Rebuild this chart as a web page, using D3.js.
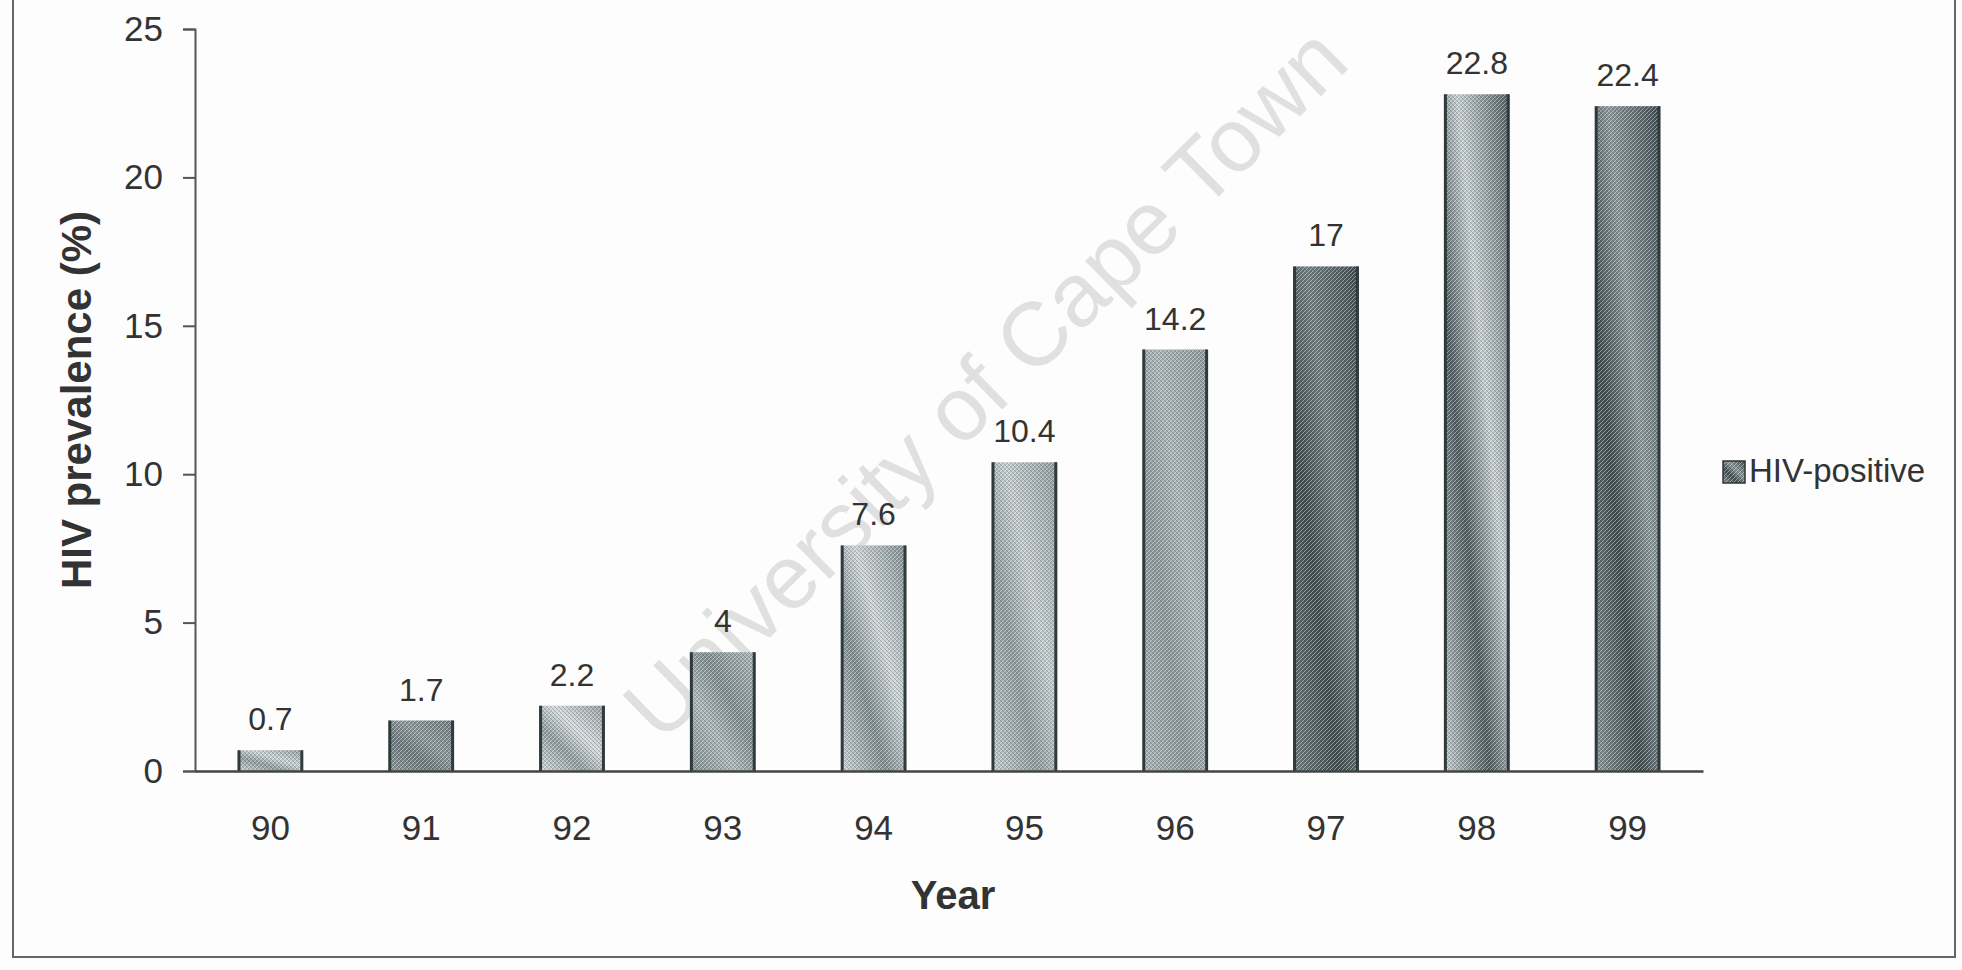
<!DOCTYPE html>
<html>
<head>
<meta charset="utf-8">
<script src="https://cdn.jsdelivr.net/npm/d3@7"></script>
<style>
  html, body { margin: 0; padding: 0; background: #fdfdfd; }
  svg { display: block; }
  text { font-family: "Liberation Sans", Arial, sans-serif; fill: #333; }
</style>
</head>
<body>
<svg id="chart" width="1962" height="970"></svg>
<script>
// ---- data ----
const years = ["90", "91", "92", "93", "94", "95", "96", "97", "98", "99"];
const prevalence = [0.7, 1.7, 2.2, 4, 7.6, 10.4, 14.2, 17, 22.8, 22.4];
const valueLabels = ["0.7", "1.7", "2.2", "4", "7.6", "10.4", "14.2", "17", "22.8", "22.4"];
const yTicks = [0, 5, 10, 15, 20, 25];
const seriesName = "HIV-positive";
const xTitle = "Year";
const yTitle = "HIV prevalence (%)";
const watermark = "University of Cape Town";

// ---- styles (per-bar shading, light/dark stops) ----
const barShades = [
  ["#c9cfd1", "#8e999c"],
  ["#8a9598", "#6c787b"],
  ["#d3d8da", "#8f9a9d"],
  ["#7f8b8e", "#aab3b5"],
  ["#cdd3d5", "#7e8a8d"],
  ["#c3cacc", "#8d989b"],
  ["#a9b2b4", "#8c9699"],
  ["#6f7c80", "#3f4b4f"],
  ["#c6cdcf", "#4d5a5d"],
  ["#8b9699", "#3e4a4d"]
];

const svg = d3.select("#chart");
const defs = svg.append("defs");

// crosshatch texture
const pat = defs.append("pattern")
  .attr("id", "hatch").attr("patternUnits", "userSpaceOnUse")
  .attr("width", 4).attr("height", 4);
pat.append("path").attr("d", "M-1,1 l2,-2 M0,4 l4,-4 M3,5 l2,-2")
  .attr("stroke", "#ffffff").attr("stroke-width", 0.9).attr("opacity", 0.45);
pat.append("path").attr("d", "M-1,3 l2,2 M0,0 l4,4 M3,-1 l2,2")
  .attr("stroke", "#2e3a3d").attr("stroke-width", 0.7).attr("opacity", 0.35);

barShades.forEach((s, i) => {
  const g = defs.append("linearGradient").attr("id", "grad" + i)
    .attr("x1", "0%").attr("y1", "100%").attr("x2", "100%").attr("y2", "0%");
  g.append("stop").attr("offset", "0%").attr("stop-color", s[0]);
  g.append("stop").attr("offset", "35%").attr("stop-color", s[1]);
  g.append("stop").attr("offset", "60%").attr("stop-color", s[0]);
  g.append("stop").attr("offset", "100%").attr("stop-color", s[1]);
});

// ---- frame ----
svg.append("rect")
  .attr("x", 13).attr("y", -10).attr("width", 1942).attr("height", 967)
  .attr("fill", "none").attr("stroke", "#666").attr("stroke-width", 2);

// ---- scales ----
const x = d3.scaleBand().domain(years).range([195, 1703])
  .paddingInner(0.57).paddingOuter(0.285);
const y = d3.scaleLinear().domain([0, 25]).range([771, 29]);

// ---- watermark ----
svg.append("text")
  .attr("transform", "translate(990,388) rotate(-44.5)")
  .attr("text-anchor", "middle").attr("dominant-baseline", "middle")
  .style("font-size", "90px").style("fill", "#e0e0e0")
  .text(watermark);

// ---- bars ----
const bars = svg.append("g");
bars.selectAll("rect.fill").data(prevalence).join("rect")
  .attr("class", "fill")
  .attr("x", (d, i) => x(years[i])).attr("width", x.bandwidth())
  .attr("y", d => y(d)).attr("height", d => y(0) - y(d))
  .attr("fill", (d, i) => `url(#grad${i})`);
bars.selectAll("rect.tex").data(prevalence).join("rect")
  .attr("class", "tex")
  .attr("x", (d, i) => x(years[i])).attr("width", x.bandwidth())
  .attr("y", d => y(d)).attr("height", d => y(0) - y(d))
  .attr("fill", "url(#hatch)");
// dark side edges
bars.selectAll("path.edge").data(prevalence).join("path")
  .attr("class", "edge")
  .attr("d", (d, i) => {
    const x0 = x(years[i]) + 1, x1 = x(years[i]) + x.bandwidth() - 1;
    return `M${x0},${y(0)}V${y(d)}M${x1},${y(d)}V${y(0)}`;
  })
  .attr("stroke", "#2f3a3c").attr("stroke-width", 3).attr("fill", "none");

// value labels
svg.append("g").selectAll("text").data(prevalence).join("text")
  .attr("x", (d, i) => x(years[i]) + x.bandwidth() / 2)
  .attr("y", d => y(d) - 20)
  .attr("text-anchor", "middle")
  .style("font-size", "32px")
  .text((d, i) => valueLabels[i]);

// ---- axes ----
const yAxis = svg.append("g").attr("transform", "translate(195,0)")
  .call(d3.axisLeft(y).tickValues(yTicks).tickSize(12).tickPadding(20));
yAxis.select(".domain").attr("stroke", "#555").attr("stroke-width", 2);
yAxis.selectAll(".tick line").attr("stroke", "#555").attr("stroke-width", 2);
yAxis.selectAll(".tick text").style("font-size", "35px").attr("fill", "#333")
  .style("font-family", "'Liberation Sans', Arial, sans-serif");

const xAxis = svg.append("g").attr("transform", `translate(0,${y(0)})`)
  .call(d3.axisBottom(x).tickSize(0).tickPadding(44));
xAxis.select(".domain").attr("stroke", "#444").attr("stroke-width", 2.5);
xAxis.selectAll(".tick text").style("font-size", "35px").attr("fill", "#333")
  .style("font-family", "'Liberation Sans', Arial, sans-serif");

// ---- titles ----
svg.append("text")
  .attr("x", 953).attr("y", 898)
  .attr("text-anchor", "middle").attr("dominant-baseline", "middle")
  .style("font-size", "40px").style("font-weight", "bold")
  .text(xTitle);
svg.append("text")
  .attr("transform", "translate(80,400) rotate(-90)")
  .attr("text-anchor", "middle").attr("dominant-baseline", "middle")
  .style("font-size", "42px").style("font-weight", "bold")
  .text(yTitle);

// ---- legend ----
const lg = svg.append("g").attr("transform", "translate(1723,461)");
lg.append("rect").attr("width", 22).attr("height", 22).attr("fill", "url(#grad9)");
lg.append("rect").attr("width", 22).attr("height", 22).attr("fill", "url(#hatch)")
  .attr("stroke", "#333").attr("stroke-width", 1.5);
lg.append("text").attr("x", 26).attr("y", 12)
  .attr("dominant-baseline", "middle")
  .style("font-size", "33px")
  .text(seriesName);
</script>
</body>
</html>
